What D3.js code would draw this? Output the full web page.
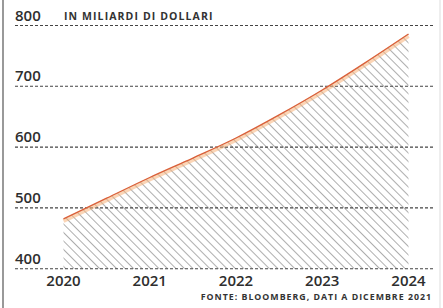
<!DOCTYPE html>
<html>
<head>
<meta charset="utf-8">
<script src="https://cdn.jsdelivr.net/npm/d3@7"></script>
<style>
  body { margin: 0; background: #fff; }
  svg { display: block; }
</style>
</head>
<body>
<div id="chart"></div>
<script>
const years = [2020, 2020.5, 2021, 2021.5, 2022, 2022.5, 2023, 2023.5, 2024]
const values = [482, 516, 550, 582, 615, 653, 694, 739, 786]
const yTicks = [400, 500, 600, 700, 800]
const xTicks = [2020, 2021, 2022, 2023, 2024]
const unitLabel = 'IN MILIARDI DI DOLLARI'
const source = 'FONTE: BLOOMBERG, DATI A DICEMBRE 2021'

const width = 443
const height = 308

const svg = d3.select('#chart')
  .append('svg')
  .attr('width', width)
  .attr('height', height)

const x = d3.scaleLinear().domain([2020, 2024]).range([63.5, 408.5])
const y = d3.scaleLinear().domain([400, 800]).range([268.7, 25.5])

const data = years.map((d, i) => ({ year: d, value: values[i] }))

// hatch pattern for the area (lines running down to the right)
const defs = svg.append('defs')
const pat = defs.append('pattern')
  .attr('id', 'hatch')
  .attr('patternUnits', 'userSpaceOnUse')
  .attr('width', 6)
  .attr('height', 6)
  .attr('patternTransform', 'rotate(-45)')
pat.append('line')
  .attr('x1', 0).attr('y1', 0)
  .attr('x2', 0).attr('y2', 6)
  .attr('stroke', '#999')
  .attr('stroke-width', 1.6)

// frame
svg.append('line')
  .attr('x1', 3).attr('x2', 3).attr('y1', 0).attr('y2', height)
  .attr('stroke', '#555').attr('stroke-width', 1.2)
svg.append('line')
  .attr('x1', 440).attr('x2', 440).attr('y1', 0).attr('y2', height)
  .attr('stroke', '#ddd').attr('stroke-width', 1)

const area = d3.area()
  .curve(d3.curveMonotoneX)
  .x((d) => x(d.year))
  .y0(y(400))
  .y1((d) => y(d.value))

svg.append('path')
  .datum(data)
  .attr('d', area)
  .attr('fill', 'url(#hatch)')

// gridlines
svg.append('g')
  .selectAll('line')
  .data(yTicks)
  .enter()
  .append('line')
  .attr('x1', 15)
  .attr('x2', 435)
  .attr('y1', (d) => y(d))
  .attr('y2', (d) => y(d))
  .attr('stroke', '#444')
  .attr('stroke-width', 1.1)
  .attr('stroke-dasharray', '3,2')

const line = d3.line()
  .curve(d3.curveMonotoneX)
  .x((d) => x(d.year))
  .y((d) => y(d.value))

// soft orange band under the line
svg.append('path')
  .datum(data)
  .attr('d', line)
  .attr('fill', 'none')
  .attr('stroke', '#f7b27a')
  .attr('stroke-width', 4)
  .attr('transform', 'translate(0,2)')
  .attr('opacity', 0.55)

svg.append('path')
  .datum(data)
  .attr('d', line)
  .attr('fill', 'none')
  .attr('stroke', '#d9603a')
  .attr('stroke-width', 1.3)

// y labels
svg.append('g')
  .selectAll('text')
  .data(yTicks)
  .enter()
  .append('text')
  .text((d) => d)
  .attr('x', 15)
  .attr('y', (d) => y(d) - 5)
  .attr('font-family', 'Open Sans, sans-serif')
  .attr('font-weight', 600)
  .attr('font-size', 15)
  .attr('fill', '#2e2e2e')

// x labels
svg.append('g')
  .selectAll('text')
  .data(xTicks)
  .enter()
  .append('text')
  .text((d) => d)
  .attr('x', (d) => x(d))
  .attr('y', 286)
  .attr('text-anchor', 'middle')
  .attr('font-family', 'Open Sans, sans-serif')
  .attr('font-weight', 600)
  .attr('font-size', 15)
  .attr('fill', '#2e2e2e')

svg.append('text')
  .text(unitLabel)
  .attr('x', 64)
  .attr('y', 20)
  .attr('font-family', 'Open Sans, sans-serif')
  .attr('font-weight', 'bold')
  .attr('font-size', 10.5)
  .attr('letter-spacing', 1.1)
  .attr('fill', '#333')

svg.append('text')
  .text(source)
  .attr('x', 432)
  .attr('y', 300)
  .attr('text-anchor', 'end')
  .attr('font-family', 'Open Sans, sans-serif')
  .attr('font-weight', 'bold')
  .attr('font-size', 8.8)
  .attr('letter-spacing', 1)
  .attr('fill', '#333')
</script>
</body>
</html>
